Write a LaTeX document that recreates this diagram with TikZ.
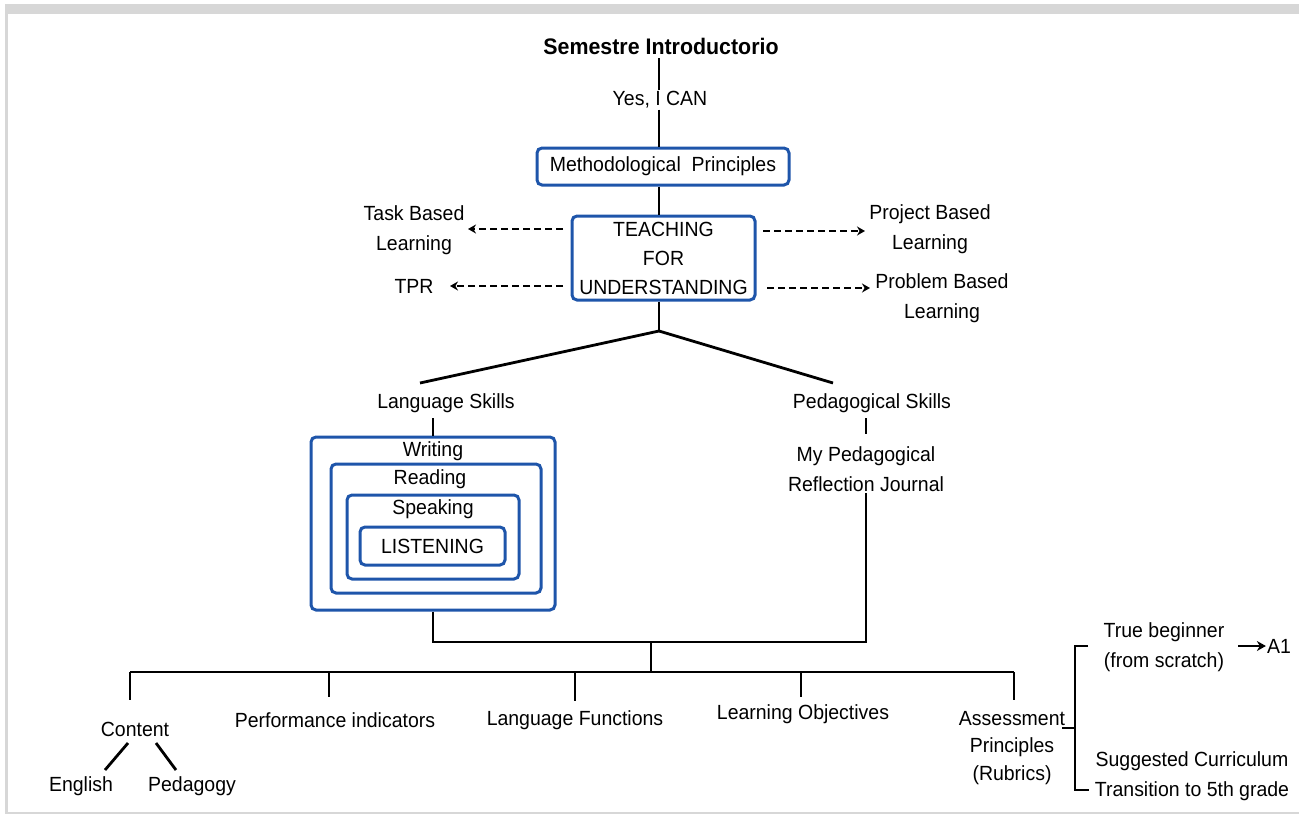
\documentclass[tikz,border=0pt]{standalone}
\usepackage{fontspec}
\setmainfont{Liberation Sans}[FakeStretch=0.95]
\usetikzlibrary{arrows.meta}
\definecolor{boxblue}{RGB}{30,85,170}
\definecolor{framegray}{RGB}{215,215,215}
\tikzset{
  lbl/.style={font=\fontsize{20.5}{30}\selectfont, inner sep=1pt, align=center},
  bbox/.style={draw=boxblue, line width=3pt, rounded corners=5pt, inner sep=0pt},
  conn/.style={line width=2.8pt},
  darr/.style={line width=2.4pt, dash pattern=on 7pt off 4pt, -{Stealth[length=8pt,width=9pt]}},
}
\begin{document}
\begin{tikzpicture}[x=1pt,y=-1pt]
\useasboundingbox (0,0) rectangle (1299,815);
% frame
\fill[framegray] (5,4) rectangle (1299,14);
\fill[framegray] (5,4) rectangle (8,814);
\fill[framegray] (5,811.5) rectangle (1299,813.5);

% top chain
\node[lbl, font=\bfseries\fontsize{22.5}{24}\selectfont] (title) at (661,46) {Semestre Introductorio};
\node[lbl] (yes) at (660,100) {Yes, I CAN};
\node[bbox, lbl, minimum width=252, minimum height=37] (mp) at (663,166.5) {Methodological\ \ Principles};
\node[bbox, lbl, minimum width=183, minimum height=84, align=center, font=\fontsize{20.5}{29}\selectfont] (tfu) at (663.5,258) {TEACHING\\FOR\\UNDERSTANDING};
\draw[conn] (659,58) -- (yes.north -| 659,0);
\draw[conn] (yes.south -| 659,0) -- (mp.north -| 659,0);
\draw[conn] (mp.south -| 659,0) -- (tfu.north -| 659,0);

% side methods
\node[lbl] (tbl) at (414,230) {Task Based\\Learning};
\node[lbl] (tpr) at (414,286) {TPR};
\node[lbl] (pjbl) at (930,229) {Project Based\\Learning};
\node[lbl] (pbbl) at (942,298) {Problem Based\\Learning};
\coordinate (tfuL1) at (563,229);
\coordinate (tfuL2) at (563,286);
\coordinate (tfuR1) at (763,231);
\coordinate (tfuR2) at (767,288);
\draw[darr] (tfuL1) -- (468,229);
\draw[darr] (tfuL2) -- (450,286);
\draw[darr] (tfuR1) -- (865,231);
\draw[darr] (tfuR2) -- (870,288);

% split
\coordinate (hub) at (659,331);
\node[lbl] (ls) at (446,403) {Language Skills};
\node[lbl] (ps) at (872,403) {Pedagogical Skills};
\draw[conn] (tfu.south -| hub) -- (hub);
\draw[conn] (hub) -- (420,383);
\draw[conn] (hub) -- (833,383);

% language skills boxes
\node[bbox, minimum width=244, minimum height=173] (wbox) at (433,523.5) {};
\node[bbox, minimum width=210, minimum height=129] (rbox) at (436,528.5) {};
\node[bbox, minimum width=172, minimum height=84] (sbox) at (433,537) {};
\node[bbox, lbl, minimum width=145, minimum height=38] (lbox) at (432.5,546) {LISTENING};
\node[lbl] (wt) at (433,451) {Writing};
\node[lbl] (rt) at (430,479) {Reading};
\node[lbl] (st) at (433,509) {Speaking};
\draw[conn] (433,418) -- (wbox.north -| 433,0);

% pedagogical
\node[lbl] (mpr) at (866,469) {My Pedagogical\\Reflection Journal};
\draw[conn] (866,418) -- (866,434);

% merge
\coordinate (mergeL) at (433,642);
\coordinate (mergeR) at (866,642);
\coordinate (mergeC) at (651,642);
\draw[conn] (wbox.south -| mergeL) -- (mergeL) -- (mergeR) -- (mpr.south -| mergeR);
\coordinate (barC) at (651,672);
\draw[conn] (mergeC) -- (barC);
\draw[conn] (130,672) -- (1014,672);

% bottom labels
\node[lbl] (content) at (135,729) {Content};
\node[lbl] (perf) at (335,720) {Performance indicators};
\node[lbl] (lf) at (575,720) {Language Functions};
\node[lbl] (lo) at (803,714) {Learning Objectives};
\node[lbl, font=\fontsize{20.5}{27.5}\selectfont] (ap) at (1012,748) {Assessment\\Principles\\(Rubrics)};
\draw[conn] (130,672) -- (130,700);
\draw[conn] (329,672) -- (329,697);
\draw[conn] (575,672) -- (575,701);
\draw[conn] (801,672) -- (801,697);
\draw[conn] (1014,672) -- (1014,700);

\node[lbl] (eng) at (81,786) {English};
\node[lbl] (ped) at (192,786) {Pedagogy};
\draw[conn] (128,743) -- (105,770);
\draw[conn] (156,743) -- (176,770);

% bracket
\node[lbl] (tb) at (1164,647) {True beginner\\(from scratch)};
\node[lbl] (a1) at (1279,646) {A1};
\node[lbl] (sc) at (1192,776) {Suggested Curriculum\\Transition to 5th grade};
\coordinate (brT) at (1075,646);
\coordinate (brB) at (1075,790);
\coordinate (brM) at (1075,728);
\draw[conn] (1062,728) -- (brM);
\draw[conn] (1088,646) -- (brT) -- (brB) -- (1089,790);
\draw[line width=2.6pt, -{Stealth[length=9pt,width=10pt]}] (1238,646) -- (a1.west);
\end{tikzpicture}
\end{document}
